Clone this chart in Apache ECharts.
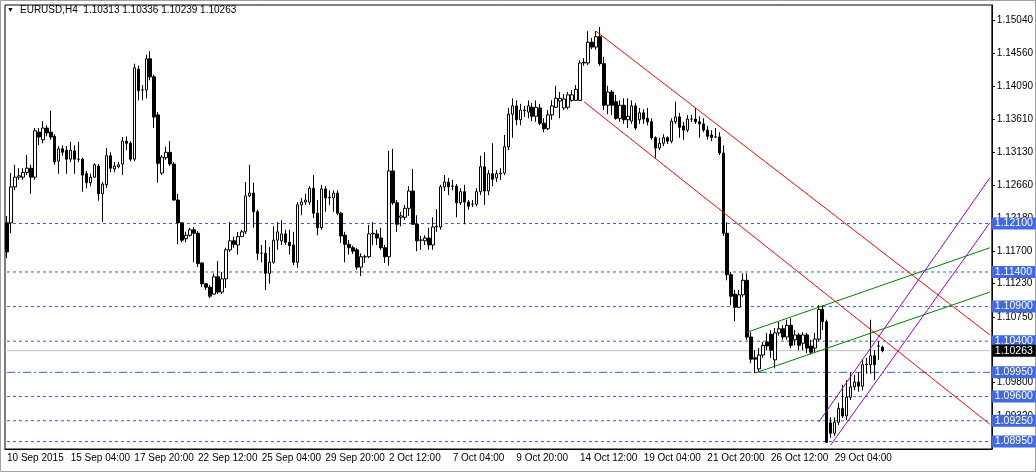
<!DOCTYPE html>
<html>
<head>
<meta charset="utf-8">
<script src="https://cdn.jsdelivr.net/npm/echarts@6.0.0/dist/echarts.min.js"></script>
<style>
  html, body { margin: 0; padding: 0; background: #fff; }
  #chart { width: 1036px; height: 472px; }
</style>
</head>
<body>
<div id="chart"></div>
<script>
// EURUSD H4 bars
var opens = [
  1.1211,1.1211,1.1263,1.1277,1.1277,1.1284,1.1290,1.1277,1.1342,1.1331,
  1.1348,1.1342,1.1336,1.1300,1.1318,1.1316,1.1303,1.1315,1.1303,1.1303,
  1.1282,1.1269,1.1277,1.1293,1.1253,1.1266,1.1308,1.1289,1.1292,1.1296,
  1.1329,1.1326,1.1303,1.1433,1.1403,1.1403,1.1448,1.1422,1.1367,1.1283,
  1.1305,1.1313,1.1296,1.1244,1.1211,1.1188,1.1193,1.1201,1.1196,1.1153,
  1.1123,1.1118,1.1108,1.1133,1.1111,1.1130,1.1172,1.1185,1.1179,1.1191,
  1.1198,1.1250,1.1254,1.1227,1.1167,1.1167,1.1138,1.1154,1.1186,1.1185,
  1.1195,1.1183,1.1179,1.1154,1.1237,1.1241,1.1241,1.1261,1.1225,1.1204,
  1.1260,1.1247,1.1247,1.1254,1.1225,1.1193,1.1180,1.1175,1.1172,1.1147,
  1.1162,1.1162,1.1195,1.1195,1.1189,1.1175,1.1162,1.1286,1.1240,1.1219,
  1.1219,1.1232,1.1257,1.1209,1.1186,1.1185,1.1189,1.1179,1.1205,1.1205,
  1.1263,1.1270,1.1264,1.1264,1.1240,1.1256,1.1241,1.1238,1.1238,1.1256,
  1.1292,1.1257,1.1282,1.1276,1.1282,1.1283,1.1321,1.1368,1.1380,1.1360,
  1.1373,1.1371,1.1378,1.1365,1.1377,1.1355,1.1347,1.1367,1.1378,1.1387,
  1.1377,1.1378,1.1388,1.1388,1.1388,1.1442,1.1442,1.1472,1.1465,1.1480,
  1.1441,1.1381,1.1400,1.1386,1.1362,1.1381,1.1360,1.1358,1.1380,1.1360,
  1.1370,1.1362,1.1357,1.1334,1.1319,1.1326,1.1334,1.1329,1.1357,1.1364,
  1.1351,1.1345,1.1361,1.1361,1.1357,1.1354,1.1345,1.1338,1.1335,1.1335,
  1.1312,1.1196,1.1136,1.1108,1.1089,1.1107,1.1128,1.1046,1.1016,1.1000,
  1.1020,1.1039,1.1050,1.1013,1.1052,1.1058,1.1046,1.1063,1.1042,1.1049,
  1.1037,1.1049,1.1033,1.1030,1.1043,1.1086,1.1068,1.0922,1.0907,1.0923,
  1.0943,1.0932,1.0959,1.0974,1.0981,1.0975,1.1006,1.1006,1.1019,1.1033,
  1.10313
];
var closes = [
  1.1169,1.1263,1.1277,1.1279,1.1284,1.1290,1.1277,1.1344,1.1335,1.1348,
  1.1341,1.1335,1.1299,1.1318,1.1313,1.1303,1.1316,1.1303,1.1303,1.1280,
  1.1269,1.1277,1.1295,1.1253,1.1267,1.1308,1.1290,1.1293,1.1295,1.1329,
  1.1326,1.1303,1.1435,1.1402,1.1403,1.1448,1.1422,1.1364,1.1297,1.1306,
  1.1313,1.1296,1.1244,1.1211,1.1186,1.1193,1.1201,1.1196,1.1152,1.1123,
  1.1118,1.1105,1.1133,1.1111,1.1130,1.1172,1.1185,1.1180,1.1191,1.1198,
  1.1250,1.1254,1.1227,1.1167,1.1167,1.1138,1.1154,1.1186,1.1198,1.1195,
  1.1183,1.1178,1.1154,1.1237,1.1241,1.1244,1.1261,1.1225,1.1204,1.1260,
  1.1247,1.1248,1.1254,1.1225,1.1192,1.1180,1.1175,1.1170,1.1147,1.1162,
  1.1162,1.1195,1.1196,1.1189,1.1175,1.1162,1.1286,1.1240,1.1209,1.1221,
  1.1232,1.1257,1.1209,1.1185,1.1186,1.1189,1.1179,1.1205,1.1206,1.1263,
  1.1270,1.1263,1.1264,1.1240,1.1256,1.1241,1.1235,1.1238,1.1256,1.1292,
  1.1257,1.1282,1.1274,1.1282,1.1283,1.1321,1.1368,1.1380,1.1360,1.1374,
  1.1374,1.1380,1.1365,1.1378,1.1355,1.1347,1.1367,1.1380,1.1391,1.1391,
  1.1390,1.1396,1.1396,1.1404,1.1442,1.1443,1.1472,1.1465,1.1480,1.1441,
  1.1381,1.1400,1.1381,1.1362,1.1381,1.1360,1.1365,1.1380,1.1348,1.1370,
  1.1361,1.1357,1.1334,1.1319,1.1326,1.1334,1.1329,1.1358,1.1364,1.1349,
  1.1345,1.1361,1.1361,1.1357,1.1354,1.1345,1.1336,1.1334,1.1335,1.1312,
  1.1196,1.1136,1.1105,1.1089,1.1107,1.1128,1.1046,1.1014,1.1014,1.1020,
  1.1034,1.1033,1.1027,1.1052,1.1058,1.1046,1.1063,1.1034,1.1049,1.1034,
  1.1049,1.1030,1.1024,1.1043,1.1086,1.1068,1.0894,1.0907,1.0923,1.0943,
  1.0932,1.0959,1.0974,1.0981,1.0975,1.1006,1.1007,1.1019,1.1006,1.1033,
  1.10263
];
var lows = [
  1.1160,1.1196,1.1258,1.1273,1.1273,1.1280,1.1253,1.1273,1.1323,1.1326,
  1.1336,1.1331,1.1295,1.1282,1.1308,1.1282,1.1299,1.1282,1.1299,1.1256,
  1.1261,1.1264,1.1276,1.1243,1.1212,1.1261,1.1284,1.1284,1.1290,1.1280,
  1.1316,1.1300,1.1300,1.1388,1.1388,1.1391,1.1417,1.1348,1.1269,1.1280,
  1.1302,1.1293,1.1243,1.1180,1.1183,1.1183,1.1191,1.1154,1.1147,1.1118,
  1.1114,1.1102,1.1107,1.1108,1.1108,1.1117,1.1169,1.1175,1.1165,1.1191,
  1.1195,1.1248,1.1204,1.1157,1.1154,1.1114,1.1123,1.1152,1.1172,1.1179,
  1.1179,1.1165,1.1150,1.1146,1.1222,1.1237,1.1237,1.1218,1.1193,1.1201,
  1.1227,1.1237,1.1227,1.1222,1.1182,1.1154,1.1165,1.1166,1.1143,1.1134,
  1.1153,1.1160,1.1179,1.1179,1.1172,1.1153,1.1149,1.1237,1.1198,1.1206,
  1.1215,1.1221,1.1208,1.1170,1.1172,1.1179,1.1172,1.1172,1.1198,1.1201,
  1.1257,1.1251,1.1258,1.1219,1.1237,1.1209,1.1230,1.1234,1.1235,1.1251,
  1.1237,1.1251,1.1264,1.1270,1.1273,1.1280,1.1316,1.1334,1.1352,1.1352,
  1.1364,1.1362,1.1358,1.1357,1.1352,1.1342,1.1345,1.1360,1.1377,1.1362,
  1.1374,1.1375,1.1386,1.1387,1.1387,1.1438,1.1439,1.1462,1.1461,1.1438,
  1.1374,1.1368,1.1367,1.1360,1.1357,1.1354,1.1348,1.1354,1.1345,1.1354,
  1.1354,1.1352,1.1331,1.1305,1.1316,1.1322,1.1325,1.1326,1.1354,1.1334,
  1.1331,1.1342,1.1357,1.1354,1.1334,1.1342,1.1331,1.1329,1.1334,1.1309,
  1.1192,1.1128,1.1092,1.1069,1.1088,1.1104,1.1042,1.1008,1.0994,1.0995,
  1.1016,1.1027,1.1016,1.1001,1.1048,1.1042,1.1042,1.1030,1.1034,1.1027,
  1.1027,1.1023,1.1021,1.1024,1.1040,1.1056,1.0893,1.0900,1.0903,1.0919,
  1.0929,1.0926,1.0955,1.0969,1.0967,1.0969,1.0993,1.0993,1.0984,1.1013,
  1.10239
];
var highs = [
  1.1221,1.1283,1.1295,1.1290,1.1290,1.1309,1.1295,1.1348,1.1348,1.1358,
  1.1352,1.1373,1.1339,1.1322,1.1323,1.1322,1.1328,1.1323,1.1328,1.1305,
  1.1286,1.1282,1.1297,1.1296,1.1270,1.1319,1.1313,1.1299,1.1299,1.1335,
  1.1336,1.1329,1.1441,1.1438,1.1410,1.1454,1.1459,1.1425,1.1371,1.1309,
  1.1321,1.1329,1.1299,1.1253,1.1212,1.1198,1.1204,1.1205,1.1199,1.1154,
  1.1124,1.1121,1.1138,1.1156,1.1140,1.1175,1.1212,1.1191,1.1198,1.1201,
  1.1270,1.1295,1.1269,1.1230,1.1179,1.1186,1.1176,1.1206,1.1212,1.1215,
  1.1201,1.1201,1.1198,1.1241,1.1247,1.1253,1.1264,1.1280,1.1244,1.1266,
  1.1264,1.1258,1.1258,1.1258,1.1227,1.1198,1.1186,1.1178,1.1175,1.1167,
  1.1165,1.1208,1.1212,1.1201,1.1204,1.1179,1.1315,1.1318,1.1244,1.1227,
  1.1237,1.1264,1.1289,1.1222,1.1192,1.1193,1.1204,1.1219,1.1231,1.1266,
  1.1280,1.1276,1.1273,1.1267,1.1261,1.1266,1.1244,1.1244,1.1261,1.1308,
  1.1313,1.1287,1.1326,1.1287,1.1290,1.1338,1.1377,1.1391,1.1388,1.1383,
  1.1380,1.1388,1.1384,1.1388,1.1383,1.1362,1.1374,1.1388,1.1409,1.1400,
  1.1397,1.1400,1.1403,1.1410,1.1446,1.1449,1.1488,1.1478,1.1488,1.1494,
  1.1451,1.1409,1.1403,1.1396,1.1388,1.1391,1.1391,1.1388,1.1384,1.1377,
  1.1375,1.1377,1.1362,1.1336,1.1334,1.1339,1.1336,1.1362,1.1386,1.1370,
  1.1357,1.1367,1.1367,1.1377,1.1365,1.1362,1.1351,1.1345,1.1348,1.1342,
  1.1323,1.1212,1.1140,1.1114,1.1114,1.1138,1.1138,1.1053,1.1027,1.1030,
  1.1039,1.1052,1.1056,1.1059,1.1068,1.1063,1.1071,1.1073,1.1056,1.1052,
  1.1053,1.1052,1.1042,1.1052,1.1092,1.1092,1.1071,1.0930,1.0930,1.0951,
  1.0977,1.0984,1.0995,1.0991,1.0995,1.1013,1.1016,1.1071,1.1027,1.1040,
  1.10336
];

var xTickLabels = ['10 Sep 2015','15 Sep 04:00','17 Sep 20:00','22 Sep 12:00','25 Sep 04:00',
  '29 Sep 20:00','2 Oct 12:00','7 Oct 04:00','9 Oct 20:00','14 Oct 12:00',
  '19 Oct 04:00','21 Oct 20:00','26 Oct 12:00','29 Oct 04:00'];
var yTickValues = [1.08840,1.09320,1.09800,1.10280,1.10750,1.11230,1.11700,
  1.12180,1.12660,1.13130,1.13610,1.14090,1.14560,1.15040];

// horizontal levels drawn in the chart
var levels = [1.1210, 1.1140, 1.1090, 1.1040, 1.0960, 1.0925, 1.0895];
var pivotLevel = 1.0995;
var lastPrice = 1.10263;

// trend lines: [startIndex, startPrice, endIndex, endPrice]
var redLines = [[148, 1.1488, 247, 1.1049], [145, 1.1386, 247, 1.0920]];
var greenLines = [[186, 1.1053, 247, 1.1175], [188, 1.0994, 247, 1.1111]];
var purpleLines = [[204, 1.0923, 247, 1.1276], [207, 1.0890, 247, 1.1211]];

var slots = 248; // chart has empty space on the right
var step = 16;

var categories = [];
for (var i = 0; i < slots; i++) {
    categories.push(i % step === 0 && xTickLabels[i / step] ? xTickLabels[i / step] : '');
}
var bars = [];
for (var k = 0; k < opens.length; k++) {
    bars.push([opens[k], closes[k], lows[k], highs[k]]);
}

var font = 'Liberation Sans';

// a horizontal level as a two-point line with its price boxed on the axis
function level(v, color, dash, boxColor) {
    return {
        type: 'line', data: [[0, v], [slots - 1, v]], symbol: 'none', silent: true, z: 1,
        lineStyle: { color: color, type: dash, width: 1 },
        endLabel: {
            show: true, distance: 2, formatter: function () { return v.toFixed(5); },
            color: '#fff', backgroundColor: boxColor, fontFamily: font, fontSize: 10.5,
            padding: [1, 3, 0, 3]
        }
    };
}

function trend(lines, color) {
    return lines.map(function (l) {
        return {
            type: 'line', data: [[l[0], l[1]], [l[2], l[3]]],
            symbol: 'none', silent: true, z: 3,
            lineStyle: { color: color, width: 1 }
        };
    });
}

var series = [{
    type: 'candlestick',
    data: bars,
    barWidth: 3,
    z: 2,
    itemStyle: { color: '#fff', color0: '#000', borderColor: '#000', borderColor0: '#000', borderWidth: 1 }
}];
levels.forEach(function (v) { series.push(level(v, '#3658e0', [3, 3], '#4169e1')); });
series.push(level(pivotLevel, '#3658e0', [8, 3, 2, 3], '#4169e1'));
series.push(level(lastPrice, '#c0c0c0', 'solid', '#000'));
series = series.concat(trend(redLines, '#ff0000'), trend(greenLines, '#008000'), trend(purpleLines, '#9400d3'));

var myChart = echarts.init(document.getElementById('chart'), null, { renderer: 'canvas' });
myChart.setOption({
    animation: false,
    grid: { left: 5, right: 44, top: 5, bottom: 23, show: true, borderColor: '#000', borderWidth: 1 },
    xAxis: {
        type: 'category', data: categories, boundaryGap: true,
        axisLine: { lineStyle: { color: '#000' } },
        axisTick: { length: 4, lineStyle: { color: '#000' }, interval: function (i) { return i % step === 0; } },
        axisLabel: {
            interval: function (i) { return i % step === 0; },
            align: 'left', margin: 4, color: '#000', fontFamily: font, fontSize: 10
        },
        splitLine: { show: false }
    },
    yAxis: {
        type: 'value', position: 'right', scale: true,
        min: 1.08842, max: 1.15258,
        axisLine: { show: true, lineStyle: { color: '#000' } },
        axisTick: { show: true, length: 3, customValues: yTickValues, lineStyle: { color: '#000' } },
        axisLabel: {
            customValues: yTickValues, margin: 5, color: '#000', fontFamily: font, fontSize: 10,
            formatter: function (v) { return v.toFixed(5); }
        },
        splitLine: { show: false }
    },
    graphic: [
        { type: 'rect', shape: { x: 0.5, y: 0.5, width: 1035, height: 471 }, style: { fill: 'none', stroke: '#a0a0a0', lineWidth: 1 } },
        { type: 'text', left: 7, top: 7, style: { text: '▼', fontSize: 7, fill: '#000', fontFamily: font } },
        { type: 'text', left: 20, top: 5, style: { text: 'EURUSD,H4  1.10313 1.10336 1.10239 1.10263', fontSize: 10, fill: '#000', fontFamily: font } }
    ],
    series: series
});
window.addEventListener('resize', myChart.resize);
</script>
</body>
</html>
